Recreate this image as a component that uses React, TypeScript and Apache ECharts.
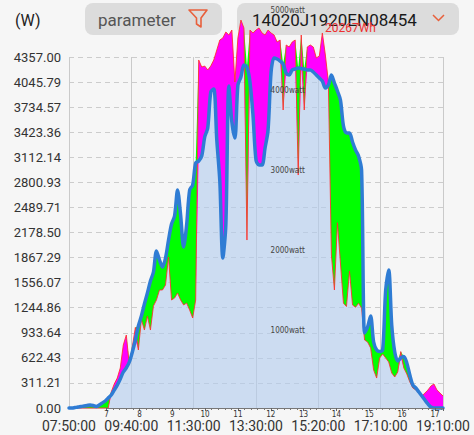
import React, { useEffect, useRef } from 'react';
import * as echarts from 'echarts';

const timeLabels = ['07:50:00', '09:40:00', '11:30:00', '13:30:00', '15:20:00', '17:10:00', '19:10:00'];
const yMax = 4357;
const ySteps = 14;
const hourMin = 7;
const hourMax = 17.245;
const wattMax = 5000;
const wattStep = 1000;
const unitLabel = '(W)';
const paramLabel = 'parameter';
const serialNo = '14020J1920EN08454';
const totalEnergy = '20267Wh';

// blue (smooth) power curve, W, sampled evenly across the plot
const blueW = [
  0, 0, 6, 12, 19, 25, 31, 37, 31, 19,
  37, 62, 87, 124, 161, 223, 285, 360, 447, 497,
  571, 695, 844, 1018, 1142, 1291, 1427, 1576, 1688, 1949,
  1837, 1750, 1862, 2085, 2284, 2383, 2706, 2396, 1998, 2271,
  2706, 2768, 3041, 3066, 3128, 3364, 3476, 3923, 3960, 3327,
  2818, 1862, 2272, 3997, 3550, 3351, 4009, 4109, 4258, 4233,
  4047, 3637, 3078, 3016, 3016, 3227, 3451, 4171, 4345, 4332,
  4307, 4270, 4158, 4134, 4196, 4208, 4220, 4214, 4208, 4196,
  4196, 4171, 4134, 4096, 4059, 3972, 4009, 4134, 4034, 3935,
  3823, 3500, 3414, 3414, 3302, 3203, 3128, 2954, 931, 1005,
  1142, 819, 720, 701, 720, 1465, 1713, 1030, 695, 583,
  621, 639, 559, 410, 285, 248, 199, 149, 99, 50,
  12, 0, 0, 0, 0,
];

// red (raw) power curve, W, same samples
const redW = [
  0, 0, 0, 0, 0, 0, 0, 0, 0, 0,
  0, 0, 0, 0, 199, 298, 372, 497, 782, 906,
  534, 760, 1000, 720, 1100, 968, 1142, 968, 1266, 1341,
  1465, 1465, 1527, 1874, 1341, 1365, 1427, 1341, 1279, 1303,
  1216, 1117, 1341, 4320, 4233, 4245, 4196, 4245, 4320, 4444,
  4568, 4593, 4667, 4630, 4692, 4047, 4593, 4816, 4717, 2085,
  4692, 4655, 4692, 4717, 4655, 4630, 4692, 4655, 4630, 4543,
  4568, 3699, 4506, 4481, 4543, 4568, 2892, 4630, 3699, 4481,
  4506, 4481, 4345, 4370, 4655, 4382, 4047, 1900, 1465, 2300,
  1800, 1300, 1260, 1700, 1280, 1250, 1300, 1240, 844, 819,
  745, 472, 372, 621, 670, 621, 571, 434, 385, 447,
  700, 497, 422, 323, 248, 223, 186, 149, 186, 223,
  273, 298, 223, 186, 149,
];

export default function App() {
  const ref = useRef<HTMLDivElement>(null);

  useEffect(() => {
    const chart = echarts.init(ref.current as HTMLDivElement, null, { renderer: 'svg' });
    const slots = blueW.map((_, i) => String(i));
    const base = blueW.map((b, i) => Math.min(b, redW[i]));
    const over = blueW.map((b, i) => Math.max(redW[i] - b, 0));
    const under = blueW.map((b, i) => Math.max(b - redW[i], 0));
    const font = 'Roboto, "Noto Sans", sans-serif';
    const narrow = '"Liberation Sans Narrow", "DejaVu Sans Condensed", sans-serif';

    const areaCommon = {
      type: 'line',
      xAxisIndex: 1,
      yAxisIndex: 0,
      stack: 'diff',
      symbol: 'none',
      clip: false,
      silent: true,
      lineStyle: { width: 0, opacity: 0 },
      z: 1,
    };

    chart.setOption({
      animation: false,
      grid: [
        { left: 69, right: 31, top: 57, bottom: 27 },
        { left: 106.6, right: 31, top: 10, bottom: 24 },
      ],
      xAxis: [
        {
          gridIndex: 0,
          type: 'category',
          data: timeLabels,
          boundaryGap: false,
          axisLine: { show: true, lineStyle: { color: '#ccc' } },
          axisTick: { show: false },
          axisLabel: { interval: 0, fontSize: 14, color: '#333', margin: 11, fontFamily: font },
          splitLine: { show: true, interval: 0, lineStyle: { color: '#cacaca', width: 1 } },
        },
        { gridIndex: 0, type: 'category', data: slots, boundaryGap: false, show: false },
        {
          gridIndex: 1,
          type: 'value',
          min: hourMin,
          max: hourMax,
          interval: 1,
          offset: -3,
          z: 10,
          axisLine: { show: true, lineStyle: { color: '#777', width: 1 } },
          axisTick: { show: true, length: 3, lineStyle: { color: '#666' } },
          minorTick: { show: true, splitNumber: 5, length: 2, lineStyle: { color: '#777' } },
          axisLabel: {
            fontSize: 8,
            color: '#333',
            margin: 2,
            fontFamily: narrow,
            formatter: (v: number) => (Number.isInteger(v) ? String(v) : ''),
          },
          splitLine: { show: false },
        },
      ],
      yAxis: [
        {
          gridIndex: 0,
          type: 'value',
          min: 0,
          max: yMax,
          interval: yMax / ySteps,
          axisLine: { show: false },
          axisTick: { show: false },
          axisLabel: {
            fontSize: 13,
            color: '#333',
            margin: 8,
            fontFamily: font,
            formatter: (v: number) => v.toFixed(2),
          },
          splitLine: { show: true, lineStyle: { color: '#cccccc', type: [5, 4] } },
        },
        {
          gridIndex: 1,
          type: 'value',
          min: 0,
          max: wattMax,
          interval: wattStep,
          z: 10,
          axisLine: { show: false },
          axisTick: { show: false },
          splitLine: { show: false },
          axisLabel: {
            inside: true,
            margin: 164,
            fontSize: 8,
            color: '#444',
            fontFamily: narrow,
            formatter: (v: number) => (v > 0 ? v + 'watt' : ''),
          },
        },
      ],
      graphic: [
        { type: 'text', z: 0, x: 15, y: 20, style: { text: unitLabel, font: '16px Roboto, sans-serif', fill: '#222', verticalAlign: 'middle' } },
        { type: 'rect', z: 0, shape: { x: 85, y: 3, width: 137, height: 32, r: 8 }, style: { fill: '#dcdcdc' } },
        { type: 'text', z: 0, x: 98, y: 20, style: { text: paramLabel, font: '17px Roboto, sans-serif', fill: '#555', verticalAlign: 'middle' } },
        {
          type: 'polygon', z: 0,
          shape: { points: [[189, 10], [207, 10], [201, 18], [201, 27], [196.5, 24], [196.5, 18]] },
          style: { fill: 'none', stroke: '#e8603c', lineWidth: 1.6, lineJoin: 'round' },
        },
        { type: 'rect', z: 0, shape: { x: 237, y: 3, width: 222, height: 32, r: 8 }, style: { fill: '#dcdcdc' } },
        { type: 'text', z: 0, x: 252, y: 20, style: { text: serialNo, font: '17px Roboto, sans-serif', fill: '#1a1a1a', verticalAlign: 'middle' } },
        {
          type: 'polyline', z: 0,
          shape: { points: [[433, 15], [438.5, 20.5], [444, 15]] },
          style: { stroke: '#e8603c', lineWidth: 1.5, fill: 'none' },
        },
        { type: 'text', z: 10, x: 325, y: 28, style: { text: totalEnergy, font: '12px Roboto, sans-serif', fill: '#ee3030', verticalAlign: 'middle' } },
      ],
      series: [
        { ...areaCommon, name: 'base', data: base, areaStyle: { color: 'rgba(176,203,238,0.6)', opacity: 1 } },
        { ...areaCommon, name: 'over', data: over, areaStyle: { color: '#ff00ff', opacity: 1 } },
        { ...areaCommon, name: 'under', data: under, areaStyle: { color: '#00ff00', opacity: 1 } },
        {
          type: 'line', name: 'red', data: redW, xAxisIndex: 1, yAxisIndex: 0, symbol: 'none', clip: false, silent: true,
          lineStyle: { color: 'rgba(255,45,45,0.85)', width: 1 }, z: 3,
        },
        {
          type: 'line', name: 'blue', data: blueW, xAxisIndex: 1, yAxisIndex: 0, symbol: 'none', clip: false, silent: true,
          smooth: 0.3,
          lineStyle: { color: '#2f7cd4', width: 3.5, join: 'round', cap: 'round' }, z: 4,
        },
      ],
    });

    return () => chart.dispose();
  }, []);

  return (
    <div
      ref={ref}
      style={{ position: 'absolute', left: 0, top: 0, width: 474, height: 435, background: '#f6f6f6' }}
    />
  );
}
